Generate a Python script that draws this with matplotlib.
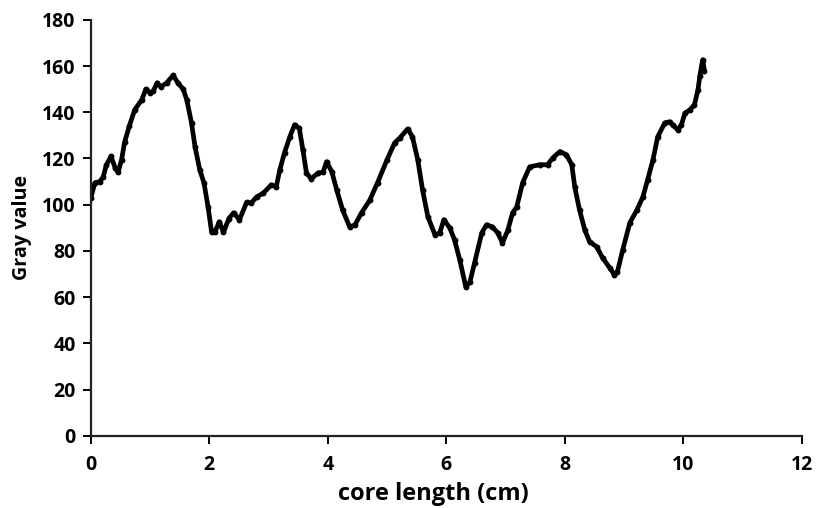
import numpy as np
import matplotlib
matplotlib.use("Agg")
import matplotlib.pyplot as plt

# gray value profile
core_cm = [0.00, 0.07, 0.15, 0.21, 0.26, 0.34, 0.41, 0.46, 0.52, 0.57, 0.65, 0.74,
           0.86, 0.93, 1.00, 1.05, 1.12, 1.18, 1.28, 1.39, 1.47, 1.56, 1.62, 1.70,
           1.76, 1.84, 1.91, 1.98, 2.04, 2.09, 2.17, 2.24, 2.33, 2.41, 2.51, 2.63,
           2.71, 2.80, 2.91, 3.05, 3.13, 3.19, 3.27, 3.36, 3.44, 3.52, 3.58, 3.64,
           3.72, 3.84, 3.92, 3.98, 4.07, 4.15, 4.25, 4.37, 4.46, 4.57, 4.71, 4.84,
           5.00, 5.13, 5.22, 5.35, 5.43, 5.52, 5.60, 5.69, 5.81, 5.89, 5.96, 6.06,
           6.14, 6.23, 6.33, 6.40, 6.48, 6.60, 6.68, 6.78, 6.87, 6.95, 7.04, 7.12,
           7.19, 7.29, 7.41, 7.58, 7.71, 7.80, 7.92, 8.03, 8.12, 8.17, 8.25, 8.34,
           8.42, 8.54, 8.64, 8.76, 8.84, 8.89, 8.98, 9.10, 9.22, 9.32, 9.40, 9.49,
           9.57, 9.69, 9.77, 9.82, 9.91, 9.97, 10.03, 10.11, 10.19, 10.25, 10.28,
           10.31, 10.33, 10.36]
gray_value = [103, 109.5, 110, 112, 117, 121, 116, 114, 119.5, 127, 134, 141,
              145.4, 150, 148.5, 149, 152.7, 151, 152.7, 156, 152.7, 150, 145.4, 135.4,
              125, 115, 109.5, 99, 88, 88, 92.6, 88, 94, 96.5, 93.5, 101,
              100.8, 103.4, 105, 108.6, 107.7, 115, 122.5, 129.4, 134.6, 133, 123.8, 113.8,
              111.2, 113.8, 114, 118.6, 114.2, 106.5, 97.8, 90.4, 91.3, 96.5, 102, 109.5,
              119.4, 126.8, 129, 132.8, 129.4, 119.4, 106.5, 94.8, 87, 87.8, 93.5, 90,
              84.8, 76, 64.5, 66.6, 75, 87.8, 91.3, 90.4, 87.8, 83.5, 89, 96.5,
              99, 109.5, 116.4, 117.3, 117.3, 120.3, 123, 121.6, 117.3, 107.7, 97.8, 89,
              84, 81.8, 77, 72.7, 69.7, 71, 80.5, 92.2, 97.8, 103.4, 110.8, 119.4,
              129.4, 135.4, 135.9, 134.6, 132.4, 134.6, 139.6, 141, 143.2, 149.7, 155.5,
              160, 162.7, 157.8]

x_ticks = [0, 2, 4, 6, 8, 10, 12]
y_ticks = list(range(0, 181, 20))

plt.rcParams['font.family'] = ['Open Sans', 'DejaVu Sans']
plt.rcParams['font.weight'] = 'bold'

fig = plt.figure(figsize=(8.18, 5.08), dpi=100)
ax = fig.add_axes([0.111, 0.142, 0.869, 0.819])

ax.plot(core_cm, gray_value, '-', color='black', lw=3.4, solid_capstyle='round',
        solid_joinstyle='round')
ax.plot(core_cm, gray_value, 'o', color='black', ms=3.2)

ax.set_xlim(0, 12)
ax.set_ylim(0, 180)
ax.set_xticks(x_ticks)
ax.set_yticks(y_ticks)
for s in ['top', 'right']:
    ax.spines[s].set_visible(False)
for s in ['left', 'bottom']:
    ax.spines[s].set_linewidth(1.6)
    ax.spines[s].set_color('#222222')
ax.tick_params(direction='out', length=6, width=1.4, labelsize=14, pad=5)
ax.tick_params(axis='x', pad=8)
for lab in ax.get_xticklabels() + ax.get_yticklabels():
    lab.set_fontweight('bold')

ax.set_xlabel('core length (cm)', fontsize=17, fontweight='bold')
ax.xaxis.set_label_coords(0.482, -0.11)
ax.set_ylabel('Gray value', fontsize=14.2, fontweight='bold', labelpad=7)

fig.savefig('out.png', dpi=100)
